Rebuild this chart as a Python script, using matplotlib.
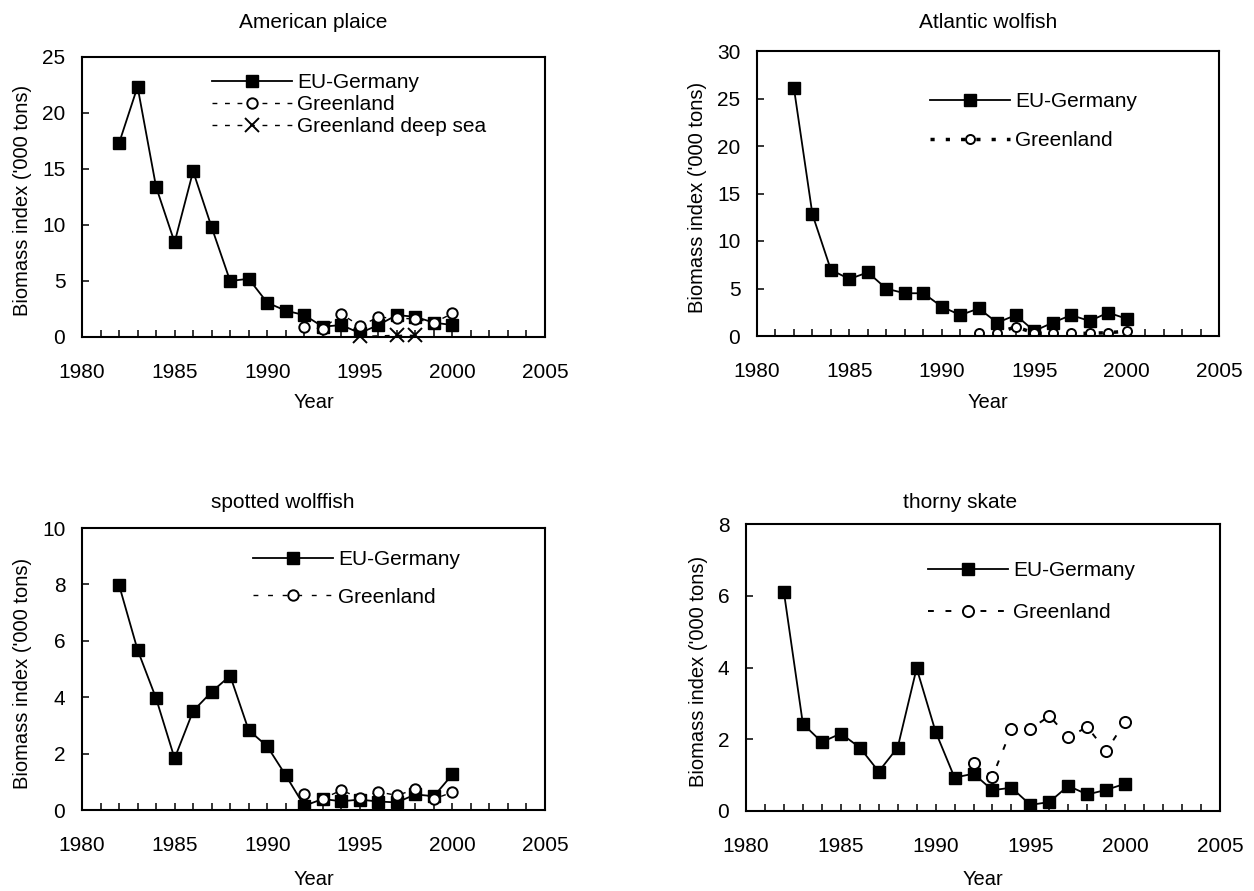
import matplotlib
matplotlib.use("Agg")
import matplotlib.pyplot as plt
from matplotlib.ticker import MultipleLocator

plt.rcParams['font.family'] = ['Liberation Sans', 'DejaVu Sans']

# years of the surveys
eu_years = [1982, 1983, 1984, 1985, 1986, 1987, 1988, 1989, 1990, 1991,
            1992, 1993, 1994, 1995, 1996, 1997, 1998, 1999, 2000]
gr_years = [1992, 1993, 1994, 1995, 1996, 1997, 1998, 1999, 2000]
deep_years = [1995, 1997, 1998]

# American plaice
plaice_eu = [17.3, 22.35, 13.4, 8.45, 14.8, 9.8, 5.0, 5.2, 3.07, 2.35,
             1.96, 0.92, 1.07, 0.35, 1.07, 1.96, 1.8, 1.28, 1.07]
plaice_gr = [0.86, 0.74, 2.05, 1.0, 1.75, 1.7, 1.6, 1.28, 2.1]
plaice_deep = [0.05, 0.15, 0.15]

# Atlantic wolfish
atl_eu = [26.07, 12.8, 6.95, 6.0, 6.7, 4.98, 4.5, 4.5, 3.09, 2.2,
          2.9, 1.4, 2.2, 0.53, 1.4, 2.2, 1.58, 2.46, 1.82]
atl_gr = [0.28, 0.28, 0.98, 0.3, 0.28, 0.28, 0.28, 0.35, 0.5]

# spotted wolffish
spot_eu = [7.98, 5.68, 3.96, 1.83, 3.51, 4.19, 4.76, 2.83, 2.26, 1.23,
           0.15, 0.39, 0.31, 0.37, 0.3, 0.27, 0.55, 0.49, 1.26]
spot_gr = [0.57, 0.4, 0.7, 0.43, 0.64, 0.52, 0.73, 0.39, 0.63]

# thorny skate
skate_eu = [6.1, 2.43, 1.92, 2.16, 1.77, 1.1, 1.77, 3.98, 2.21, 0.93,
            1.04, 0.58, 0.65, 0.17, 0.25, 0.7, 0.46, 0.59, 0.76]
skate_gr = [1.35, 0.96, 2.28, 2.28, 2.65, 2.06, 2.34, 1.67, 2.49]

W, H = 1254, 891
fig = plt.figure(figsize=(W / 100, H / 100), dpi=100)


def px_axes(left, top, right, bottom):
    return fig.add_axes([left / W, 1 - bottom / H, (right - left) / W, (bottom - top) / H])


def style_axes(ax, ymax, ystep, ylab_x, xlab_y):
    ax.set_xlim(1980, 2005)
    ax.set_ylim(0, ymax)
    ax.xaxis.set_major_locator(MultipleLocator(5))
    ax.xaxis.set_minor_locator(MultipleLocator(1))
    ax.yaxis.set_major_locator(MultipleLocator(ystep))
    ax.tick_params(axis='both', which='both', direction='in', length=5, width=1.1,
                   labelsize=15)
    ax.tick_params(axis='x', which='major', pad=19)
    ax.tick_params(axis='y', which='major', pad=12)
    for s in ax.spines.values():
        s.set_linewidth(1.5)
    ax.set_xlabel('Year', fontsize=14.5)
    ax.set_ylabel("Biomass index ('000 tons)", fontsize=14.5)
    ax.yaxis.set_label_coords(ylab_x, 0.486)
    ax.xaxis.set_label_coords(0.5, xlab_y)


def legend_at(ax, left, top, spacing):
    ax.legend(loc='upper left', bbox_to_anchor=(left / W, 1 - top / H),
              bbox_transform=fig.transFigure, frameon=False, fontsize=15,
              handlelength=3.85, handletextpad=0.25, labelspacing=spacing,
              borderpad=0, borderaxespad=0, numpoints=1)


eu_kw = dict(color='black', lw=1.3, marker='s', ms=8, mfc='black', mec='black', label='EU-Germany')

# American plaice
ax1 = px_axes(82, 57, 545, 337)
ax1.plot(eu_years, plaice_eu, **eu_kw)
ax1.plot(gr_years, plaice_gr, color='black', lw=1.0, ls=(0, (3.5, 5.5)), marker='o', ms=7.5,
         mfc='white', mec='black', mew=1.4, label='Greenland')
ax1.plot(deep_years, plaice_deep, color='black', lw=1.0, ls=(0, (3.5, 5.5)), marker='x', ms=10,
         mec='black', mew=1.4, label='Greenland deep sea', clip_on=False)
style_axes(ax1, 25, 5, -0.108, -0.2)
legend_at(ax1, 212, 73, 0.15)
fig.text(313 / W, 1 - 23 / H, 'American plaice', ha='center', va='center', fontsize=15)

# Atlantic wolfish
ax2 = px_axes(757, 51, 1219, 336)
ax2.plot(eu_years, atl_eu, **eu_kw)
ax2.plot(gr_years, atl_gr, color='black', lw=2.5, ls=(0, (1.2, 3.2)), marker='o', ms=6.5,
         mfc='white', mec='black', mew=1.4, label='Greenland')
style_axes(ax2, 30, 5, -0.108, -0.2)
legend_at(ax2, 930, 92, 0.98)
fig.text(988 / W, 1 - 23 / H, 'Atlantic wolfish', ha='center', va='center', fontsize=15)

# spotted wolffish
ax3 = px_axes(82, 528, 545, 810)
ax3.plot(eu_years, spot_eu, **eu_kw)
ax3.plot(gr_years, spot_gr, color='black', lw=1.0, ls=(0, (3.5, 7)), marker='o', ms=7.5,
         mfc='white', mec='black', mew=1.4, label='Greenland')
style_axes(ax3, 10, 2, -0.108, -0.213)
legend_at(ax3, 253, 550, 0.9)
fig.text(283 / W, 1 - 503 / H, 'spotted wolffish', ha='center', va='center', fontsize=15)

# thorny skate
ax4 = px_axes(746, 524, 1220, 811)
ax4.plot(eu_years, skate_eu, **eu_kw)
ax4.plot(gr_years, skate_gr, color='black', lw=1.4, ls=(0, (3, 6)), marker='o', ms=8,
         mfc='white', mec='black', mew=1.4, label='Greenland')
style_axes(ax4, 8, 2, -0.080, -0.206)
legend_at(ax4, 928, 561, 1.1)
fig.text(960 / W, 1 - 503 / H, 'thorny skate', ha='center', va='center', fontsize=15)

fig.savefig('out.png', dpi=100)
